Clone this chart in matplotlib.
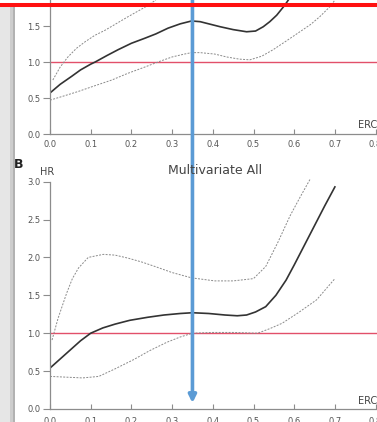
import matplotlib
matplotlib.use("Agg")
import matplotlib.pyplot as plt
from matplotlib.patches import Rectangle
from matplotlib.lines import Line2D

# ---------------- data ----------------
# Panel A (top, partially cropped)
a_x_hr = [0.00, 0.025, 0.053, 0.075, 0.10, 0.111, 0.14, 0.167, 0.20, 0.233, 0.26, 0.29, 0.32, 0.348,
          0.369, 0.39, 0.418, 0.45, 0.483, 0.505, 0.524, 0.54, 0.557, 0.577, 0.60]
a_hr = [0.57, 0.69, 0.80, 0.89, 0.97, 1.00, 1.09, 1.17, 1.26, 1.33, 1.39, 1.47, 1.53, 1.57,
        1.56, 1.53, 1.49, 1.45, 1.42, 1.43, 1.49, 1.56, 1.65, 1.79, 1.98]
a_x_up = [0.007, 0.025, 0.044, 0.065, 0.086, 0.11, 0.135, 0.165, 0.192, 0.233, 0.26]
a_up = [0.75, 0.93, 1.07, 1.19, 1.28, 1.37, 1.44, 1.54, 1.63, 1.76, 1.86]
a_x_lo = [0.00, 0.035, 0.069, 0.11, 0.152, 0.19, 0.233, 0.27, 0.30, 0.33, 0.348, 0.369, 0.405,
          0.434, 0.465, 0.491, 0.52, 0.548, 0.58, 0.614, 0.64, 0.663, 0.688, 0.70]
a_lo = [0.47, 0.53, 0.59, 0.67, 0.75, 0.84, 0.93, 1.01, 1.07, 1.11, 1.13, 1.13, 1.11,
        1.07, 1.04, 1.03, 1.08, 1.17, 1.29, 1.42, 1.52, 1.63, 1.77, 1.86]

# Panel B: Multivariate All
b_x_hr = [0.00, 0.025, 0.05, 0.075, 0.10, 0.13, 0.16, 0.196, 0.24, 0.28, 0.32, 0.35, 0.39, 0.43,
          0.46, 0.483, 0.505, 0.53, 0.555, 0.58, 0.60, 0.625, 0.65, 0.675, 0.70]
b_hr = [0.54, 0.66, 0.78, 0.90, 1.00, 1.07, 1.12, 1.17, 1.21, 1.24, 1.26, 1.27, 1.26, 1.24,
        1.23, 1.24, 1.28, 1.35, 1.50, 1.70, 1.90, 2.16, 2.42, 2.68, 2.93]
b_x_up = [0.005, 0.02, 0.041, 0.055, 0.07, 0.094, 0.131, 0.16, 0.192, 0.225, 0.258, 0.30, 0.348,
          0.405, 0.45, 0.50, 0.53, 0.56, 0.59, 0.615, 0.64]
b_up = [0.91, 1.20, 1.53, 1.72, 1.86, 2.00, 2.04, 2.03, 1.99, 1.94, 1.88, 1.80, 1.73,
        1.69, 1.69, 1.72, 1.88, 2.20, 2.55, 2.80, 3.04]
b_x_lo = [0.00, 0.04, 0.08, 0.12, 0.16, 0.205, 0.245, 0.287, 0.32, 0.35, 0.40, 0.45, 0.51,
          0.54, 0.57, 0.61, 0.655, 0.70]
b_lo = [0.43, 0.42, 0.41, 0.43, 0.53, 0.65, 0.77, 0.88, 0.95, 1.00, 1.01, 1.01, 1.00,
        1.06, 1.13, 1.27, 1.44, 1.72]

x_ticks = [0.0, 0.1, 0.2, 0.3, 0.4, 0.5, 0.6, 0.7, 0.8]
x_labels = ["0.0", "0.1", "0.2", "0.3", "0.4", "0.5", "0.6", "0.7", "0.8"]
y_ticks = [0.0, 0.5, 1.0, 1.5, 2.0, 2.5, 3.0]
y_labels = ["0.0", "0.5", "1.0", "1.5", "2.0", "2.5", "3.0"]
ref_hr = 1.0
arrow_x = 0.35
title_b = "Multivariate All"
panel_b = "B"
y_name = "HR"
x_name = "ERC"

# ---------------- figure ----------------
W, H = 377, 422
plt.rcParams['font.family'] = ['DejaVu Sans']
fig = plt.figure(figsize=(W / 100, H / 100), dpi=100)
fig.patch.set_facecolor("white")

# left gray border strip
fig.patches.append(Rectangle((0, 0), 10 / W, 1 - 7 / H, transform=fig.transFigure,
                             facecolor="#e6e6e6", edgecolor="none", zorder=0))
fig.patches.append(Rectangle((10 / W, 0), 3 / W, 1 - 7 / H, transform=fig.transFigure,
                             facecolor="#cdcdcd", edgecolor="none", zorder=0))
fig.patches.append(Rectangle((13 / W, 0), 2 / W, 1 - 7 / H, transform=fig.transFigure,
                             facecolor="#b2b2b2", edgecolor="none", zorder=0))

spine_c = "#8c8c8c"
lab_c = "#555555"
solid_c = "#333333"
dash_c = "#8a8a8a"
ref_c = "#e2506a"

x_max = 327 / 407.0


def style(ax, ytop, ybound, xpad):
    ax.set_xlim(0, x_max)
    ax.set_ylim(0, ytop)
    for s in ("top", "right"):
        ax.spines[s].set_visible(False)
    for s in ("left", "bottom"):
        ax.spines[s].set_color(spine_c)
        ax.spines[s].set_linewidth(0.9)
    ax.spines['left'].set_bounds(0, ybound)
    ax.set_xticks(x_ticks)
    ax.set_xticklabels(x_labels)
    ax.tick_params(axis='x', direction='in', length=3.5, width=0.8, color=spine_c,
                   labelsize=6, labelcolor=lab_c, pad=xpad)
    ax.tick_params(axis='y', direction='out', length=5, width=0.8, color=spine_c,
                   labelsize=6, labelcolor=lab_c, pad=2)
    ax.patch.set_alpha(0)


# Panel A
axA = fig.add_axes([50 / W, 1 - 134 / H, 327 / W, 134 / H])
ytopA = 134 / 72.0
style(axA, ytopA, ytopA, 4.0)
axA.set_yticks([t for t in y_ticks if t <= 1.5])
axA.set_yticklabels([l for t, l in zip(y_ticks, y_labels) if t <= 1.5])
axA.axhline(ref_hr, color=ref_c, lw=1.0, zorder=1)
axA.plot(a_x_up, a_up, color=dash_c, lw=0.7, ls=(0, (2, 1.4)))
axA.plot(a_x_lo, a_lo, color=dash_c, lw=0.7, ls=(0, (2, 1.4)))
axA.plot(a_x_hr, a_hr, color=solid_c, lw=1.2)
axA.text((358 - 50) / 407, (134 - 125) / 72, x_name, fontsize=7, color="#444444",
         ha="left", va="center", clip_on=False)

# Panel B
ytopB = (409 - 175) / 75.8
axB = fig.add_axes([50 / W, 13 / H, 327 / W, (409 - 175) / H])
style(axB, ytopB, 3.0, 5.5)
axB.set_yticks(y_ticks)
axB.set_yticklabels(y_labels)
axB.axhline(ref_hr, color=ref_c, lw=1.0, zorder=1)
axB.plot(b_x_up, b_up, color=dash_c, lw=0.7, ls=(0, (2, 1.4)))
axB.plot(b_x_lo, b_lo, color=dash_c, lw=0.7, ls=(0, (2, 1.4)))
axB.plot(b_x_hr, b_hr, color=solid_c, lw=1.2)
axB.text((358 - 50) / 407, (409 - 401) / 75.8, x_name, fontsize=7, color="#444444",
         ha="left", va="center", clip_on=False)

fig.text(215 / W, 1 - 170 / H, title_b, fontsize=9, color="#444444", ha="center", va="center")
fig.text(14 / W, 1 - 164 / H, panel_b, fontsize=9, fontweight="bold", color="#222222",
         ha="left", va="center")
fig.text(40 / W, 1 - 172 / H, y_name, fontsize=7, color="#444444", ha="left", va="center")

# blue arrow overlay
axB.annotate("", xy=(arrow_x, (409 - 403) / 75.8), xycoords="data",
             xytext=(arrow_x, ytopA), textcoords=axA.transData,
             arrowprops=dict(arrowstyle="-|>", lw=2.6, color="#5b9bd5",
                             mutation_scale=11, shrinkA=0, shrinkB=0),
             annotation_clip=False, zorder=10)

# red top line
fig.lines.append(Line2D([0, 1], [1 - 5 / H, 1 - 5 / H], transform=fig.transFigure,
                        color="#ff1010", lw=2.9, zorder=20))

fig.savefig("out.png", dpi=100)
